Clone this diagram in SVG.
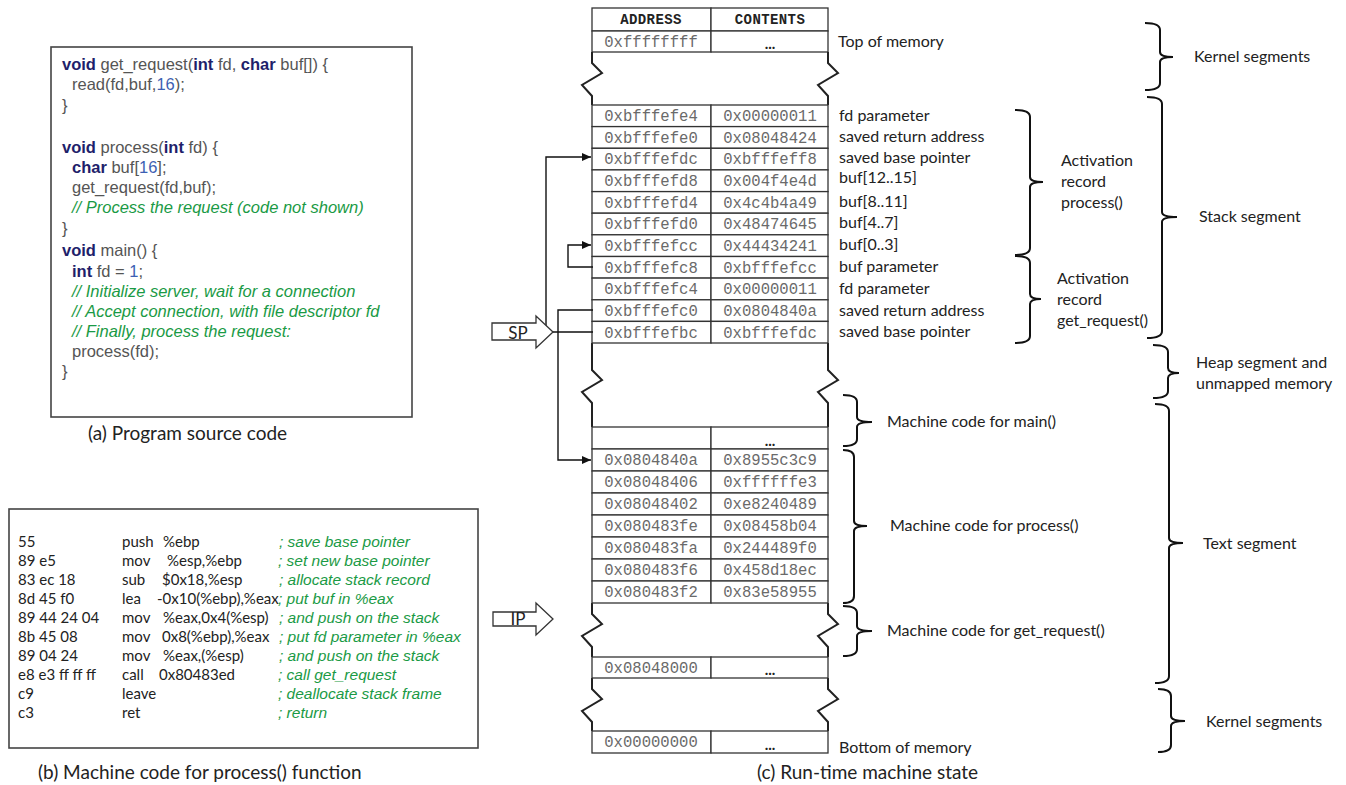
<svg xmlns="http://www.w3.org/2000/svg" width="1346" height="785" viewBox="0 0 1346 785">
<defs>
<marker id="ah" markerWidth="10" markerHeight="8" refX="9" refY="4" orient="auto" markerUnits="userSpaceOnUse">
<path d="M0,0 L9,4 L0,8 Z" fill="#111"/>
</marker>
<style>
.cell{fill:#fff;stroke:#333;stroke-width:1.3}
.addr{font-family:"Liberation Mono",monospace;font-size:15.6px;fill:#6a6a6a;text-anchor:middle}
.hdr{font-family:"Liberation Mono",monospace;font-size:14px;font-weight:bold;fill:#222;text-anchor:middle;letter-spacing:0.4px}
.dots{font-family:Lato,sans-serif;font-size:15px;font-weight:bold;fill:#222;text-anchor:middle}
.lbl{font-family:Lato,"Liberation Sans",sans-serif;font-size:16px;fill:#222}
.zig{fill:none;stroke:#222;stroke-width:2}
.brace{fill:none;stroke:#111;stroke-width:2}
.conn{fill:none;stroke:#111;stroke-width:1.4}
.box{fill:#fff;stroke:#444;stroke-width:1.6}
.code{font-family:"Liberation Sans",Arial,sans-serif;font-size:16.5px;fill:#555}
.kw{font-weight:bold;fill:#1f1f6b}
.num{fill:#3d5fb3}
.cm{fill:#1a9a45;font-style:italic}
.mc{font-family:Lato,"Liberation Sans",sans-serif;font-size:15px;fill:#222}
.mcc{font-family:"Liberation Sans",Arial,sans-serif;font-size:15.5px;font-style:italic;fill:#1a9a45}
.cap{font-family:Lato,"Liberation Sans",sans-serif;font-size:19px;fill:#222}
.ptr{fill:#fff;stroke:#333;stroke-width:1.3}
</style>
</defs>
<rect width="1346" height="785" fill="#fff"/>

<!-- (a) source code -->
<g id="source-code">
<rect class="box" x="51" y="47" width="361" height="370"/>
<text class="code" x="62" y="70"><tspan class="kw">void</tspan> get_request(<tspan class="kw">int</tspan> fd, <tspan class="kw">char</tspan> buf[]) {</text>
<text class="code" x="72" y="90">read(fd,buf,<tspan class="num">16</tspan>);</text>
<text class="code" x="62" y="111">}</text>
<text class="code" x="62" y="153"><tspan class="kw">void</tspan> process(<tspan class="kw">int</tspan> fd) {</text>
<text class="code" x="72" y="173"><tspan class="kw">char</tspan> buf[<tspan class="num">16</tspan>];</text>
<text class="code" x="72" y="193">get_request(fd,buf);</text>
<text class="code cm" x="72" y="213">// Process the request (code not shown)</text>
<text class="code" x="62" y="234">}</text>
<text class="code" x="62" y="256"><tspan class="kw">void</tspan> main() {</text>
<text class="code" x="72" y="277"><tspan class="kw">int</tspan> fd = <tspan class="num">1</tspan>;</text>
<text class="code cm" x="72" y="297">// Initialize server, wait for a connection</text>
<text class="code cm" x="72" y="317">// Accept connection, with file descriptor fd</text>
<text class="code cm" x="72" y="337">// Finally, process the request:</text>
<text class="code" x="72" y="357">process(fd);</text>
<text class="code" x="62" y="377">}</text>
<text class="cap" x="88" y="440">(a) Program source code</text>
</g>

<!-- (b) machine code -->
<g id="machine-code">
<rect class="box" x="9" y="509" width="469" height="239"/>
<text class="mc" x="18" y="547">55</text><text class="mc" x="122" y="547">push</text><text class="mc" x="163" y="547">%ebp</text><text class="mcc" x="279" y="547">; save base pointer</text>
<text class="mc" x="18" y="566">89 e5</text><text class="mc" x="122" y="566">mov</text><text class="mc" x="167" y="566">%esp,%ebp</text><text class="mcc" x="278" y="566">; set new base pointer</text>
<text class="mc" x="18" y="585">83 ec 18</text><text class="mc" x="122" y="585">sub</text><text class="mc" x="162" y="585">$0x18,%esp</text><text class="mcc" x="279" y="585">; allocate stack record</text>
<text class="mc" x="18" y="604">8d 45 f0</text><text class="mc" x="122" y="604">lea</text><text class="mc" x="157" y="604">-0x10(%ebp),%eax</text><text class="mcc" x="278" y="604">; put buf in %eax</text>
<text class="mc" x="18" y="623">89 44 24 04</text><text class="mc" x="122" y="623">mov</text><text class="mc" x="163" y="623">%eax,0x4(%esp)</text><text class="mcc" x="279" y="623">; and push on the stack</text>
<text class="mc" x="18" y="642">8b 45 08</text><text class="mc" x="122" y="642">mov</text><text class="mc" x="162" y="642">0x8(%ebp),%eax</text><text class="mcc" x="279" y="642">; put fd parameter in %eax</text>
<text class="mc" x="18" y="661">89 04 24</text><text class="mc" x="122" y="661">mov</text><text class="mc" x="163" y="661">%eax,(%esp)</text><text class="mcc" x="279" y="661">; and push on the stack</text>
<text class="mc" x="18" y="680">e8 e3 ff ff ff</text><text class="mc" x="122" y="680">call</text><text class="mc" x="159" y="680">0x80483ed</text><text class="mcc" x="278" y="680">; call get_request</text>
<text class="mc" x="18" y="699">c9</text><text class="mc" x="122" y="699">leave</text><text class="mcc" x="278" y="699">; deallocate stack frame</text>
<text class="mc" x="18" y="718">c3</text><text class="mc" x="122" y="718">ret</text><text class="mcc" x="278" y="718">; return</text>
<text class="cap" x="38" y="779">(b) Machine code for process() function</text>
</g>

<!-- (c) memory table -->
<g id="memory-table">
<rect class="cell" x="592" y="8" width="119" height="23"/><rect class="cell" x="711" y="8" width="117" height="23"/>
<text class="hdr" x="651" y="24">ADDRESS</text><text class="hdr" x="770" y="24">CONTENTS</text>
<rect class="cell" x="592" y="31" width="119" height="21"/><rect class="cell" x="711" y="31" width="117" height="21"/>
<text class="addr" x="651" y="47">0xffffffff</text><text class="dots" x="770" y="49">...</text>
</g>

<g id="gaps">
<path class="zig" d="M592,52 V63 L602,73 L582,85 L592,96 V105"/>
<path class="zig" d="M828,52 V63 L838,73 L818,85 L828,96 V105"/>
<path class="zig" d="M592,343 V370 L602,380 L582,392 L592,403 V427"/>
<path class="zig" d="M828,343 V370 L838,380 L818,392 L828,403 V427"/>
<path class="zig" d="M592,603 V614 L602,624 L582,636 L592,647 V657"/>
<path class="zig" d="M828,603 V614 L838,624 L818,636 L828,647 V657"/>
<path class="zig" d="M592,678 V689 L602,699 L582,711 L592,722 V731"/>
<path class="zig" d="M828,678 V689 L838,699 L818,711 L828,722 V731"/>
</g>

<g id="stack-rows">
<rect class="cell" x="592" y="105" width="119" height="21.6"/><rect class="cell" x="711" y="105" width="117" height="21.6"/>
<rect class="cell" x="592" y="126.6" width="119" height="21.7"/><rect class="cell" x="711" y="126.6" width="117" height="21.7"/>
<rect class="cell" x="592" y="148.3" width="119" height="21.6"/><rect class="cell" x="711" y="148.3" width="117" height="21.6"/>
<rect class="cell" x="592" y="169.9" width="119" height="21.7"/><rect class="cell" x="711" y="169.9" width="117" height="21.7"/>
<rect class="cell" x="592" y="191.6" width="119" height="21.6"/><rect class="cell" x="711" y="191.6" width="117" height="21.6"/>
<rect class="cell" x="592" y="213.2" width="119" height="21.6"/><rect class="cell" x="711" y="213.2" width="117" height="21.6"/>
<rect class="cell" x="592" y="234.8" width="119" height="21.7"/><rect class="cell" x="711" y="234.8" width="117" height="21.7"/>
<rect class="cell" x="592" y="256.5" width="119" height="21.6"/><rect class="cell" x="711" y="256.5" width="117" height="21.6"/>
<rect class="cell" x="592" y="278.1" width="119" height="21.7"/><rect class="cell" x="711" y="278.1" width="117" height="21.7"/>
<rect class="cell" x="592" y="299.8" width="119" height="21.6"/><rect class="cell" x="711" y="299.8" width="117" height="21.6"/>
<rect class="cell" x="592" y="321.4" width="119" height="21.6"/><rect class="cell" x="711" y="321.4" width="117" height="21.6"/>
<text class="addr" x="651" y="121.1">0xbfffefe4</text><text class="addr" x="770" y="121.1">0x00000011</text>
<text class="addr" x="651" y="142.8">0xbfffefe0</text><text class="addr" x="770" y="142.8">0x08048424</text>
<text class="addr" x="651" y="164.4">0xbfffefdc</text><text class="addr" x="770" y="164.4">0xbfffeff8</text>
<text class="addr" x="651" y="186.1">0xbfffefd8</text><text class="addr" x="770" y="186.1">0x004f4e4d</text>
<text class="addr" x="651" y="207.7">0xbfffefd4</text><text class="addr" x="770" y="207.7">0x4c4b4a49</text>
<text class="addr" x="651" y="229.3">0xbfffefd0</text><text class="addr" x="770" y="229.3">0x48474645</text>
<text class="addr" x="651" y="251">0xbfffefcc</text><text class="addr" x="770" y="251">0x44434241</text>
<text class="addr" x="651" y="272.6">0xbfffefc8</text><text class="addr" x="770" y="272.6">0xbfffefcc</text>
<text class="addr" x="651" y="294.3">0xbfffefc4</text><text class="addr" x="770" y="294.3">0x00000011</text>
<text class="addr" x="651" y="315.9">0xbfffefc0</text><text class="addr" x="770" y="315.9">0x0804840a</text>
<text class="addr" x="651" y="337.5">0xbfffefbc</text><text class="addr" x="770" y="337.5">0xbfffefdc</text>
</g>

<g id="text-rows">
<rect class="cell" x="592" y="427" width="119" height="22"/><rect class="cell" x="711" y="427" width="117" height="22"/>
<text class="dots" x="770" y="446">...</text>
<rect class="cell" x="592" y="449" width="119" height="22"/><rect class="cell" x="711" y="449" width="117" height="22"/>
<rect class="cell" x="592" y="471" width="119" height="22"/><rect class="cell" x="711" y="471" width="117" height="22"/>
<rect class="cell" x="592" y="493" width="119" height="22"/><rect class="cell" x="711" y="493" width="117" height="22"/>
<rect class="cell" x="592" y="515" width="119" height="22"/><rect class="cell" x="711" y="515" width="117" height="22"/>
<rect class="cell" x="592" y="537" width="119" height="22"/><rect class="cell" x="711" y="537" width="117" height="22"/>
<rect class="cell" x="592" y="559" width="119" height="22"/><rect class="cell" x="711" y="559" width="117" height="22"/>
<rect class="cell" x="592" y="581" width="119" height="22"/><rect class="cell" x="711" y="581" width="117" height="22"/>
<text class="addr" x="651" y="465.3">0x0804840a</text><text class="addr" x="770" y="465.3">0x8955c3c9</text>
<text class="addr" x="651" y="487.3">0x08048406</text><text class="addr" x="770" y="487.3">0xffffffe3</text>
<text class="addr" x="651" y="509.3">0x08048402</text><text class="addr" x="770" y="509.3">0xe8240489</text>
<text class="addr" x="651" y="531.3">0x080483fe</text><text class="addr" x="770" y="531.3">0x08458b04</text>
<text class="addr" x="651" y="553.3">0x080483fa</text><text class="addr" x="770" y="553.3">0x244489f0</text>
<text class="addr" x="651" y="575.3">0x080483f6</text><text class="addr" x="770" y="575.3">0x458d18ec</text>
<text class="addr" x="651" y="597.3">0x080483f2</text><text class="addr" x="770" y="597.3">0x83e58955</text>
</g>

<g id="low-rows">
<rect class="cell" x="592" y="657" width="119" height="21"/><rect class="cell" x="711" y="657" width="117" height="21"/>
<text class="addr" x="651" y="672.5">0x08048000</text><text class="dots" x="770" y="675">...</text>
<rect class="cell" x="592" y="731" width="119" height="22"/><rect class="cell" x="711" y="731" width="117" height="22"/>
<text class="addr" x="651" y="747">0x00000000</text><text class="dots" x="770" y="750">...</text>
</g>

<!-- row labels -->
<g id="row-labels">
<text class="lbl" x="838" y="47">Top of memory</text>
<text class="lbl" x="839" y="121">fd parameter</text>
<text class="lbl" x="839" y="142">saved return address</text>
<text class="lbl" x="839" y="163">saved base pointer</text>
<text class="lbl" x="839" y="183">buf[12..15]</text>
<text class="lbl" x="839" y="207">buf[8..11]</text>
<text class="lbl" x="839" y="228">buf[4..7]</text>
<text class="lbl" x="839" y="250">buf[0..3]</text>
<text class="lbl" x="839" y="272">buf parameter</text>
<text class="lbl" x="839" y="294">fd parameter</text>
<text class="lbl" x="839" y="316">saved return address</text>
<text class="lbl" x="839" y="337">saved base pointer</text>
<text class="lbl" x="839" y="753">Bottom of memory</text>
<text class="cap" x="757" y="779">(c) Run-time machine state</text>
</g>

<!-- connectors -->
<g id="connectors">
<path class="conn" d="M593,332 H546 V157 H591" marker-end="url(#ah)"/>
<path class="conn" d="M593,310 H558 V460 H591" marker-end="url(#ah)"/>
<path class="conn" d="M593,267 H568 V245 H591" marker-end="url(#ah)"/>
</g>

<g id="sp-pointer">
<polygon class="ptr" points="492,323 536,323 536,316 553,332 536,348 536,340 492,340"/>
<text class="lbl" x="518" y="339" text-anchor="middle" style="font-size:17px">SP</text>
</g>
<g id="ip-pointer">
<polygon class="ptr" points="493,612 536,612 536,603 553,619 536,635 536,626 493,626"/>
<text class="lbl" x="518" y="625" text-anchor="middle" style="font-size:17px">IP</text>
</g>

<!-- braces -->
<g id="brace-kernel-top">
<path class="brace" d="M1145,23 Q1160,23 1160,30 V52 Q1160,57 1173,57 Q1160,57 1160,62 V83 Q1160,90 1145,90"/>
<text class="lbl" x="1194" y="62">Kernel segments</text>
</g>
<g id="brace-stack">
<path class="brace" d="M1147,97 Q1162,97 1162,104 V212 Q1162,217 1177,217 Q1162,217 1162,222 V331 Q1162,338 1147,338"/>
<text class="lbl" x="1199" y="222">Stack segment</text>
</g>
<g id="brace-act-process">
<path class="brace" d="M1015,110 Q1030,110 1030,117 V177 Q1030,182 1043,182 Q1030,182 1030,187 V248 Q1030,255 1015,255"/>
<text class="lbl" x="1061" y="166">Activation</text>
<text class="lbl" x="1061" y="187">record</text>
<text class="lbl" x="1061" y="208">process()</text>
</g>
<g id="brace-act-getreq">
<path class="brace" d="M1015,256 Q1030,256 1030,263 V294 Q1030,299 1041,299 Q1030,299 1030,304 V336 Q1030,343 1015,343"/>
<text class="lbl" x="1057" y="284">Activation</text>
<text class="lbl" x="1057" y="305">record</text>
<text class="lbl" x="1057" y="326">get_request()</text>
</g>
<g id="brace-heap">
<path class="brace" d="M1153,345 Q1168,345 1168,352 V368 Q1168,373 1179,373 Q1168,373 1168,378 V391 Q1168,398 1153,398"/>
<text class="lbl" x="1196" y="368">Heap segment and</text>
<text class="lbl" x="1196" y="389">unmapped memory</text>
</g>
<g id="brace-main">
<path class="brace" d="M843,395 Q857,395 857,402 V417 Q857,422 872,422 Q857,422 857,427 V439 Q857,446 843,446"/>
<text class="lbl" x="887" y="427">Machine code for main()</text>
</g>
<g id="brace-process">
<path class="brace" d="M843,450 Q854,450 854,457 V521 Q854,526 867,526 Q854,526 854,531 V596 Q854,603 843,603"/>
<text class="lbl" x="890" y="531">Machine code for process()</text>
</g>
<g id="brace-getreq">
<path class="brace" d="M843,606 Q857,606 857,613 V626 Q857,631 872,631 Q857,631 857,636 V649 Q857,656 843,656"/>
<text class="lbl" x="887" y="636">Machine code for get_request()</text>
</g>
<g id="brace-text">
<path class="brace" d="M1155,404 Q1169,404 1169,411 V538 Q1169,543 1183,543 Q1169,543 1169,548 V676 Q1169,683 1155,683"/>
<text class="lbl" x="1203" y="549">Text segment</text>
</g>
<g id="brace-kernel-bottom">
<path class="brace" d="M1158,689 Q1171,689 1171,696 V716 Q1171,721 1185,721 Q1171,721 1171,726 V745 Q1171,752 1158,752"/>
<text class="lbl" x="1206" y="727">Kernel segments</text>
</g>
</svg>
